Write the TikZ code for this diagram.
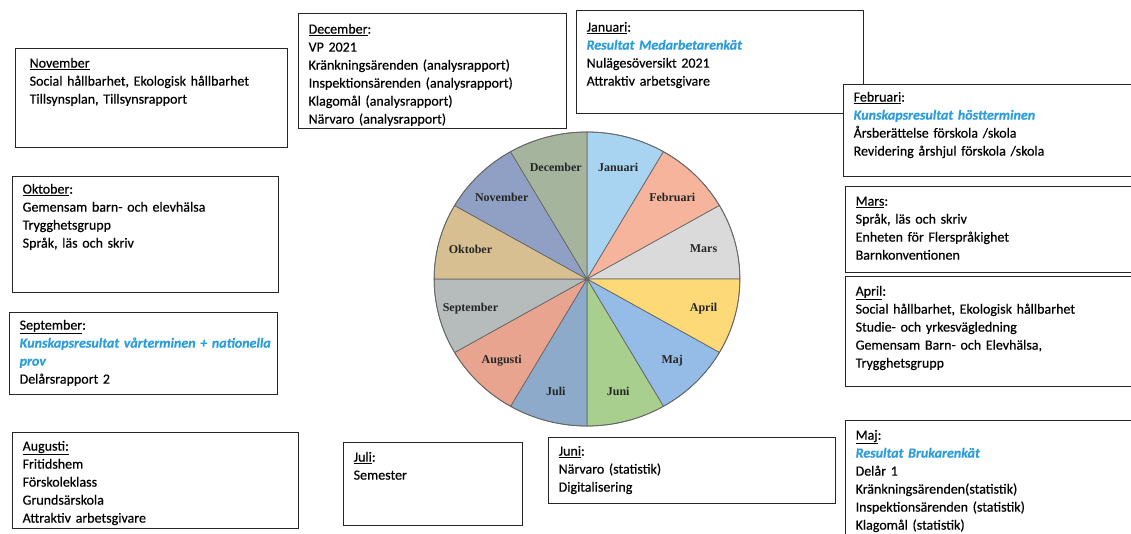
\documentclass[tikz,border=0pt]{standalone}
\usepackage{fontspec}
\setmainfont{Carlito}[FakeBold=0.4]
\newfontfamily\piefont{Liberation Serif}
\definecolor{resultblue}{HTML}{2B9DDC}
\definecolor{janfill}{HTML}{A8D4F1}
\definecolor{febfill}{HTML}{F5B49B}
\definecolor{marfill}{HTML}{DADADA}
\definecolor{aprfill}{HTML}{FDD977}
\definecolor{majfill}{HTML}{94BCE6}
\definecolor{junfill}{HTML}{A8CF8D}
\definecolor{julfill}{HTML}{8DAACB}
\definecolor{augfill}{HTML}{E8A48E}
\definecolor{sepfill}{HTML}{B6BBBB}
\definecolor{oktfill}{HTML}{D7BF91}
\definecolor{novfill}{HTML}{8FA0C4}
\definecolor{decfill}{HTML}{A5B59D}
\newcommand{\blueline}[1]{{\color{resultblue}\bfseries\itshape #1}}

\begin{document}
\begin{tikzpicture}[x=1pt,y=-1pt,
    month box/.style={draw=black!85,line width=1.3pt,fill=white,anchor=north west,inner xsep=10pt,inner ysep=0pt,align=left,text height=18pt,font=\fontsize{14}{18}\selectfont},
    pie label/.style={font=\piefont\bfseries\fontsize{12}{12}\selectfont,text=black!85}]
  \useasboundingbox (0,0) rectangle (1131,534);
  \fill[white] (0,0) rectangle (1131,534);

  % pie with the twelve months
  \begin{scope}[shift={(587,279)},xscale=1.04,yscale=-1]
    \foreach \month/\tone [count=\i from 0] in {Januari/janfill,Februari/febfill,Mars/marfill,April/aprfill,Maj/majfill,Juni/junfill,Juli/julfill,Augusti/augfill,September/sepfill,Oktober/oktfill,November/novfill,December/decfill}
    {
      \filldraw[fill=\tone,draw=black!60,line width=0.7pt] (0,0) -- (90-30*\i:147) arc[start angle=90-30*\i,end angle=60-30*\i,radius=147] -- cycle;
      \node[pie label] (slice\i) at (75-30*\i:116) {\month};
    }
    \draw[black!60,line width=0.8pt] (0,0) circle[radius=147];
  \end{scope}

  % boxes, left side
  \node[month box,text width=244pt,inner xsep=14pt,text height=19pt,text depth=80pt] (nov) at (15,48)
    {\underline{November}\\Social hållbarhet, Ekologisk hållbarhet\\Tillsynsplan, Tillsynsrapport};
  \node[month box,text width=246pt,text height=17pt,text depth=99pt] (okt) at (12,176)
    {\underline{Oktober}:\\Gemensam barn- och elevhälsa\\Trygghetsgrupp\\Språk, läs och skriv};
  \node[month box,text width=248pt,text height=17pt,text depth=65pt] (sep) at (9,312)
    {\underline{September}:\\\mbox{\blueline{Kunskapsresultat vårterminen + nationella}}\\\blueline{prov}\\Delårsrapport 2};
  \node[month box,text width=266pt,text height=18pt,text depth=78pt] (aug) at (12,432)
    {\underline{Augusti:}\\Fritidshem\\Förskoleklass\\Grundsärskola\\Attraktiv arbetsgivare};

  % boxes, top and bottom
  \node[month box,text width=248pt,text height=20pt,text depth=95pt] (dec) at (298,13)
    {\underline{December}:\\VP 2021\\Kränkningsärenden (analysrapport)\\Inspektionsärenden (analysrapport)\\Klagomål (analysrapport)\\Närvaro (analysrapport)};
  \node[month box,text width=267pt,text height=21pt,text depth=82pt] (jan) at (576,10)
    {\underline{Januari}:\\\blueline{Resultat Medarbetarenkät}\\Nulägesöversikt 2021\\Attraktiv arbetsgivare};
  \node[month box,text width=159pt,text height=19pt,text depth=64pt] (jul) at (343,442)
    {\underline{Juli}:\\Semester};
  \node[month box,text width=267pt,text height=18pt,text depth=48pt] (jun) at (548,437)
    {\underline{Juni}:\\Närvaro (statistik)\\Digitalisering};

  % boxes, right side
  \node[month box,text width=280pt,text height=17pt,text depth=75pt] (feb) at (843,84)
    {\underline{Februari}:\\\blueline{Kunskapsresultat höstterminen}\\Årsberättelse förskola /skola\\Revidering årshjul förskola /skola};
  \node[month box,text width=280pt,text height=19pt,text depth=67pt] (mar) at (845,186)
    {\underline{Mars}:\\Språk, läs och skriv\\Enheten för Flerspråkighet\\Barnkonventionen};
  \node[month box,text width=280pt,text height=19pt,text depth=91pt] (apr) at (845,276)
    {\underline{April}:\\Social hållbarhet, Ekologisk hållbarhet\\Studie- och yrkesvägledning\\Gemensam Barn- och Elevhälsa,\\Trygghetsgrupp};
  \node[month box,text width=280pt,text height=19pt,text depth=111pt] (maj) at (845,420)
    {\underline{Maj}:\\\blueline{Resultat Brukarenkät}\\Delår 1\\Kränkningsärenden(statistik)\\Inspektionsärenden (statistik)\\Klagomål (statistik)};
\end{tikzpicture}
\end{document}
